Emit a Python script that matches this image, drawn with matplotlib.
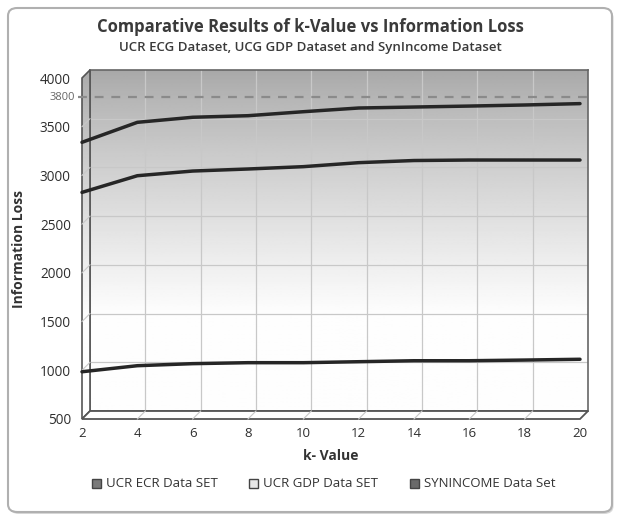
import numpy as np
import matplotlib
matplotlib.use("Agg")
import matplotlib.pyplot as plt
from matplotlib.patches import Polygon, FancyBboxPatch, Rectangle

plt.rcParams['font.family'] = ['Open Sans', 'DejaVu Sans']

# ---------------- data ----------------
k_values = [2, 4, 6, 8, 10, 12, 14, 16, 18, 20]
ucr_ecr = [3340, 3545, 3597, 3613, 3654, 3692, 3702, 3712, 3723, 3737]
ucr_gdp = [2826, 2997, 3045, 3066, 3090, 3131, 3153, 3158, 3158, 3158]
synincome = [985, 1047, 1068, 1078, 1078, 1088, 1098, 1098, 1105, 1113]
series_names = ["UCR ECR Data SET", "UCR GDP Data SET", "SYNINCOME Data Set"]
legend_colors = ["#7a7a7a", "#e8e8e8", "#6a6a6a"]
y_ticks = [500, 1000, 1500, 2000, 2500, 3000, 3500, 4000]
x_ticks = [2, 4, 6, 8, 10, 12, 14, 16, 18, 20]
threshold = 3800
title = "Comparative Results of k-Value vs Information Loss"
subtitle = "UCR ECG Dataset, UCG GDP Dataset and SynIncome Dataset"
x_label = "k- Value"
y_label = "Information Loss"

W, H = 620, 521
fig = plt.figure(figsize=(W / 100, H / 100), dpi=100)
fig.patch.set_facecolor("white")

def fx(px):
    return px / W

def fy(py):
    return (H - py) / H

# outer rounded frame (with a soft shadow)
shadow = FancyBboxPatch((fx(9.5), fy(514)), fx(604), (504) / H,
                        boxstyle="round,pad=0,rounding_size=0.015",
                        transform=fig.transFigure, facecolor="#d8d8d8",
                        edgecolor="none", zorder=-6)
fig.patches.append(shadow)
frame = FancyBboxPatch((fx(8), fy(512)), fx(604), (504) / H,
                       boxstyle="round,pad=0,rounding_size=0.015",
                       transform=fig.transFigure, facecolor="white",
                       edgecolor="#b0b0b0", linewidth=1.5, zorder=-5)
fig.patches.append(frame)

# front plane geometry (pixels)
L, R, T, B = 82, 580, 78, 419
D = 8  # depth offset in pixels

shade = 0.66 + 0.335 * np.clip(np.linspace(0, 1, 256) / 0.72, 0, 1) ** 0.85

# back panel axes
axb = fig.add_axes([fx(L + D), fy(B - D), fx(R - L), (B - T) / H])
axb.set_zorder(1)
axb.imshow(shade[:, None], cmap="gray", vmin=0, vmax=1, aspect="auto",
           extent=[2, 20, 500, 4000], origin="upper", zorder=0)
axb.set_xlim(2, 20)
axb.set_ylim(500, 4000)
for xt in x_ticks[1:-1]:
    axb.axvline(xt, color="#c8c8c8", lw=0.9, zorder=1)
for yt in y_ticks[1:-1]:
    axb.axhline(yt, color="#c8c8c8", lw=0.9, zorder=1)
axb.set_xticks([])
axb.set_yticks([])
for s in axb.spines.values():
    s.set_color("#666666")
    s.set_linewidth(1.2)

# left wall (gradient clipped to parallelogram)
wall_pts = [(fx(L), fy(B)), (fx(L + D), fy(B - D)), (fx(L + D), fy(T - D)), (fx(L), fy(T))]
axw = fig.add_axes([fx(L), fy(B), fx(D), (B - T + D) / H])
axw.set_zorder(2)
axw.set_axis_off()
im2 = axw.imshow(shade[:, None], cmap="gray", vmin=0, vmax=1, aspect="auto",
                 extent=[0, 1, 0, 1], origin="upper")
clip = Polygon(wall_pts, closed=True, transform=fig.transFigure)
im2.set_clip_path(clip)
wall = Polygon(wall_pts, closed=True, transform=fig.transFigure,
               facecolor="none", edgecolor="#555555", lw=1.2, zorder=3)
fig.patches.append(wall)

# floor
floor_pts = [(fx(L), fy(B)), (fx(R), fy(B)), (fx(R + D), fy(B - D)), (fx(L + D), fy(B - D))]
floor = Polygon(floor_pts, closed=True, transform=fig.transFigure,
                facecolor="white", edgecolor="#555555", lw=1.3, zorder=3)
fig.patches.append(floor)

# floor diagonal gridlines
for xt in x_ticks[1:-1]:
    xp = L + (xt - 2) / 18 * (R - L)
    fig.add_artist(plt.Line2D([fx(xp), fx(xp + D)], [fy(B), fy(B - D)],
                              transform=fig.transFigure, color="#c8c8c8", lw=0.8, zorder=4))
# wall diagonal gridlines
for yt in y_ticks[1:-1]:
    yp = B - (yt - 500) / 3500 * (B - T)
    fig.add_artist(plt.Line2D([fx(L), fx(L + D)], [fy(yp), fy(yp - D)],
                              transform=fig.transFigure, color="#c8c8c8", lw=0.8, zorder=4))

# front axes with the data lines
ax = fig.add_axes([fx(L), fy(B), fx(R - L), (B - T) / H])
ax.set_zorder(6)
ax.patch.set_alpha(0)
ax.set_xlim(2, 20)
ax.set_ylim(500, 4000)
for s in ax.spines.values():
    s.set_visible(False)

# threshold dashed line
ax.plot([1.85, 20.3], [threshold, threshold], color="#8a8a8a", lw=1.6,
        dashes=(4, 3.5), clip_on=False, zorder=3)
ax.text(1.75, threshold, "3800", ha="right", va="center", fontsize=8, color="#666666")

for ys in (ucr_ecr, ucr_gdp, synincome):
    ax.plot(k_values, ys, color="#262626", lw=2.5, solid_capstyle="round",
            solid_joinstyle="round", zorder=5, clip_on=False)

ax.set_xticks(x_ticks)
ax.set_yticks(y_ticks)
ax.set_xticklabels([str(v) for v in x_ticks], fontsize=9.5, color="#2e2e2e")
ax.set_yticklabels([str(v) for v in y_ticks], fontsize=9.8, color="#2e2e2e",
                   fontweight="medium")
ax.tick_params(axis="both", length=0, pad=6)
ax.tick_params(axis="y", pad=8)
ax.set_xlabel(x_label, fontsize=10, fontweight="bold", color="#333333", labelpad=6)
ax.set_ylabel(y_label, fontsize=10, fontweight="bold", color="#333333", labelpad=10)

# titles
fig.text(0.5, fy(27), title, ha="center", va="center", fontsize=12,
         fontweight="bold", color="#3a3a3a")
fig.text(0.5, fy(48), subtitle, ha="center", va="center", fontsize=9.5,
         fontweight="semibold", color="#3a3a3a")

# legend
leg_x = [92, 249, 410]
for px, name, col in zip(leg_x, series_names, legend_colors):
    fig.patches.append(Rectangle((fx(px), fy(488)), fx(9), 9 / H,
                                 transform=fig.transFigure, facecolor=col,
                                 edgecolor="#444444", lw=1.0))
    fig.text(fx(px + 14), fy(483.5), name, ha="left", va="center",
             fontsize=9.5, color="#333333")

fig.savefig("out.png", dpi=100)
